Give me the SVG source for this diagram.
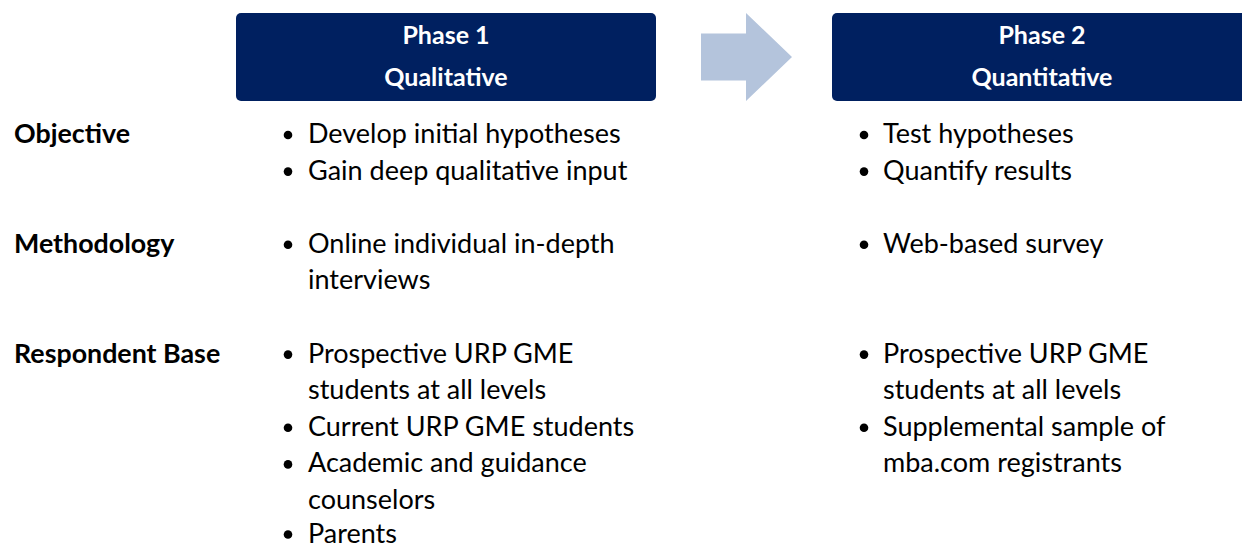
<svg xmlns="http://www.w3.org/2000/svg" width="1242" height="547" viewBox="0 0 1242 547">
<style>
.hdr{fill:#002060}
.ht{font-family:Lato,"Open Sans",sans-serif;font-weight:bold;font-size:25px;fill:#ffffff;text-anchor:middle}
.lbl{font-family:Lato,"Open Sans",sans-serif;font-weight:bold;font-size:26.8px;fill:#000000}
.bt{font-family:Lato,"Open Sans",sans-serif;font-size:27px;fill:#000000}
.dot{fill:#000000}
</style>
<rect width="1242" height="547" fill="#ffffff"/>
<g id="phase1">
<rect class="hdr" x="236" y="13" width="420" height="88" rx="5"/>
<text class="ht" x="446" y="44">Phase 1</text>
<text class="ht" x="446" y="86">Qualitative</text>
</g>
<g id="connectors">
<path d="M701,33.5 H746 V13 L792,57 L746,101 V80.5 H701 Z" fill="#b4c4dc"/>
</g>
<g id="phase2">
<rect class="hdr" x="832" y="13" width="420" height="88" rx="5"/>
<text class="ht" x="1042" y="44">Phase 2</text>
<text class="ht" x="1042" y="86">Quantitative</text>
</g>
<g id="labels">
<text class="lbl" x="14" y="143">Objective</text>
<text class="lbl" x="14" y="252.8">Methodology</text>
<text class="lbl" x="14" y="362.6">Respondent Base</text>
</g>
<g id="col1">
<circle class="dot" cx="288" cy="135" r="4.3"/>
<text class="bt" x="308" y="143">Develop initial hypotheses</text>
<circle class="dot" cx="288" cy="171.6" r="4.3"/>
<text class="bt" x="308" y="179.6">Gain deep qualitative input</text>
<circle class="dot" cx="288" cy="244.8" r="4.3"/>
<text class="bt" x="308" y="252.8">Online individual in-depth</text>
<text class="bt" x="308" y="289.4">interviews</text>
<circle class="dot" cx="288" cy="354.6" r="4.3"/>
<text class="bt" x="308" y="362.6">Prospective URP GME</text>
<text class="bt" x="308" y="399.2">students at all levels</text>
<circle class="dot" cx="288" cy="427.8" r="4.3"/>
<text class="bt" x="308" y="435.8">Current URP GME students</text>
<circle class="dot" cx="288" cy="464.4" r="4.3"/>
<text class="bt" x="308" y="472.4">Academic and guidance</text>
<text class="bt" x="308" y="509">counselors</text>
<circle class="dot" cx="288" cy="534.5" r="4.3"/>
<text class="bt" x="308" y="542.5">Parents</text>
</g>
<g id="col2">
<circle class="dot" cx="864" cy="135" r="4.3"/>
<text class="bt" x="883" y="143">Test hypotheses</text>
<circle class="dot" cx="864" cy="171.6" r="4.3"/>
<text class="bt" x="883" y="179.6">Quantify results</text>
<circle class="dot" cx="864" cy="244.8" r="4.3"/>
<text class="bt" x="883" y="252.8">Web-based survey</text>
<circle class="dot" cx="864" cy="354.6" r="4.3"/>
<text class="bt" x="883" y="362.6">Prospective URP GME</text>
<text class="bt" x="883" y="399.2">students at all levels</text>
<circle class="dot" cx="864" cy="427.8" r="4.3"/>
<text class="bt" x="883" y="435.8">Supplemental sample of</text>
<text class="bt" x="883" y="472.4">mba.com registrants</text>
</g>
</svg>
